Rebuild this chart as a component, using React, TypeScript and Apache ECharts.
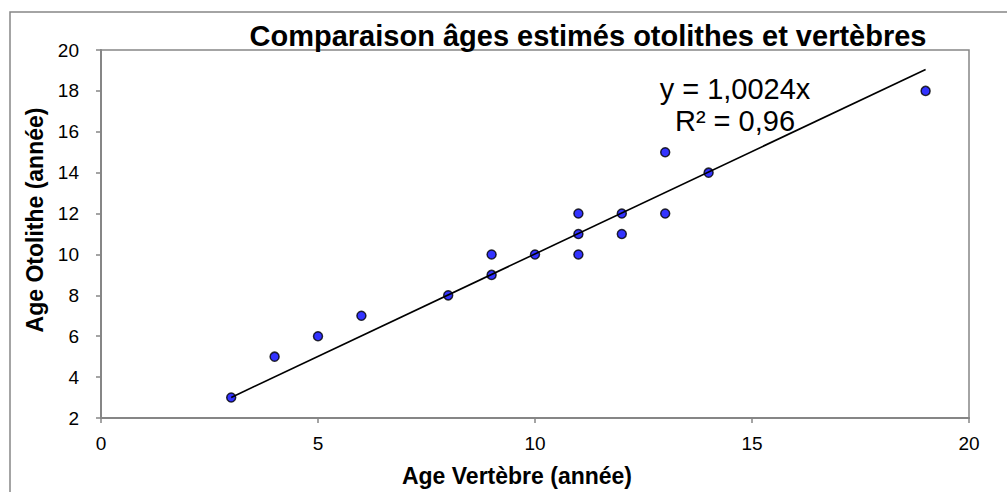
import React, { useEffect, useRef } from "react";
import * as echarts from "echarts";

const titleText = "Comparaison âges estimés otolithes et vertèbres";
const xName = "Age Vertèbre (année)";
const yName = "Age Otolithe (année)";
const equationText = "y = 1,0024x";
const r2Text = "R² = 0,96";

// Observations: age from vertebrae (x) vs age from otoliths (y)
const vertebraAges = [3, 4, 5, 6, 8, 9, 9, 10, 11, 11, 11, 12, 12, 13, 13, 14, 19];
const otolithAges = [3, 5, 6, 7, 8, 9, 10, 10, 10, 11, 12, 11, 12, 12, 15, 14, 18];

// Linear trend line (through origin) endpoints
const trendX = [3, 19];
const trendY = [3.007, 19.046];

const xTicks = { min: 0, max: 20, interval: 5 };
const yTicks = { min: 2, max: 20, interval: 2 };

export default function App() {
  const ref = useRef<HTMLDivElement>(null);

  useEffect(() => {
    if (!ref.current) return;
    const chart = echarts.init(ref.current, null, { renderer: "svg" });
    const font = "'Liberation Sans', Arial, sans-serif";
    const gray = "#868686";
    const points = vertebraAges.map((x, i) => [x, otolithAges[i]]);
    const trend = trendX.map((x, i) => [x, trendY[i]]);

    chart.setOption({
      animation: false,
      backgroundColor: "#ffffff",
      textStyle: { fontFamily: font },
      title: {
        text: titleText,
        left: 588,
        top: 21,
        padding: 0,
        textAlign: "center",
        textStyle: { fontFamily: font, fontSize: 29, fontWeight: "bold", color: "#000" },
      },
      grid: {
        left: 101,
        top: 50,
        right: 38,
        bottom: 70,
        show: true,
        borderColor: gray,
        borderWidth: 1.5,
        backgroundColor: "transparent",
      },
      xAxis: {
        type: "value",
        min: xTicks.min,
        max: xTicks.max,
        interval: xTicks.interval,
        name: xName,
        nameLocation: "middle",
        nameGap: 46,
        nameTextStyle: {
          fontFamily: font,
          fontSize: 23,
          fontWeight: "bold",
          color: "#000",
          padding: [0, 36, 0, 0],
        },
        axisLine: { show: true, onZero: false, lineStyle: { color: gray, width: 2 } },
        axisTick: { show: true, length: 5, lineStyle: { color: gray, width: 1.5 } },
        axisLabel: { fontFamily: font, fontSize: 19, color: "#000", margin: 16 },
        splitLine: { show: false },
      },
      yAxis: {
        type: "value",
        min: yTicks.min,
        max: yTicks.max,
        interval: yTicks.interval,
        name: yName,
        nameLocation: "middle",
        nameGap: 48,
        nameTextStyle: {
          fontFamily: font,
          fontSize: 23,
          fontWeight: "bold",
          color: "#000",
          padding: [0, 0, 0, 28],
        },
        axisLine: { show: true, onZero: false, lineStyle: { color: gray, width: 2 } },
        axisTick: { show: true, length: 5, lineStyle: { color: gray, width: 1.5 } },
        axisLabel: { fontFamily: font, fontSize: 19, color: "#000", margin: 22 },
        splitLine: { show: false },
      },
      graphic: [
        {
          type: "rect",
          shape: { x: 10, y: 12, width: 1100, height: 600 },
          style: { fill: "none", stroke: gray, lineWidth: 1.5 },
          silent: true,
        },
        {
          type: "text",
          x: 735,
          y: 73,
          style: {
            text: equationText + "\n" + r2Text,
            fontFamily: font,
            fontSize: 29,
            lineHeight: 32,
            fill: "#000",
            align: "center",
            verticalAlign: "top",
          },
          z: 10,
        },
      ],
      series: [
        {
          type: "scatter",
          data: points,
          symbol: "circle",
          symbolSize: 9,
          itemStyle: { color: "#0000ff", borderColor: "#000", borderWidth: 1.5 },
          z: 2,
        },
        {
          type: "line",
          data: trend,
          symbol: "none",
          lineStyle: { color: "#000", width: 1.6 },
          z: 3,
        },
      ],
    });

    return () => chart.dispose();
  }, []);

  return (
    <div
      ref={ref}
      style={{ position: "fixed", left: 0, top: 0, width: 1007, height: 492 }}
    />
  );
}
